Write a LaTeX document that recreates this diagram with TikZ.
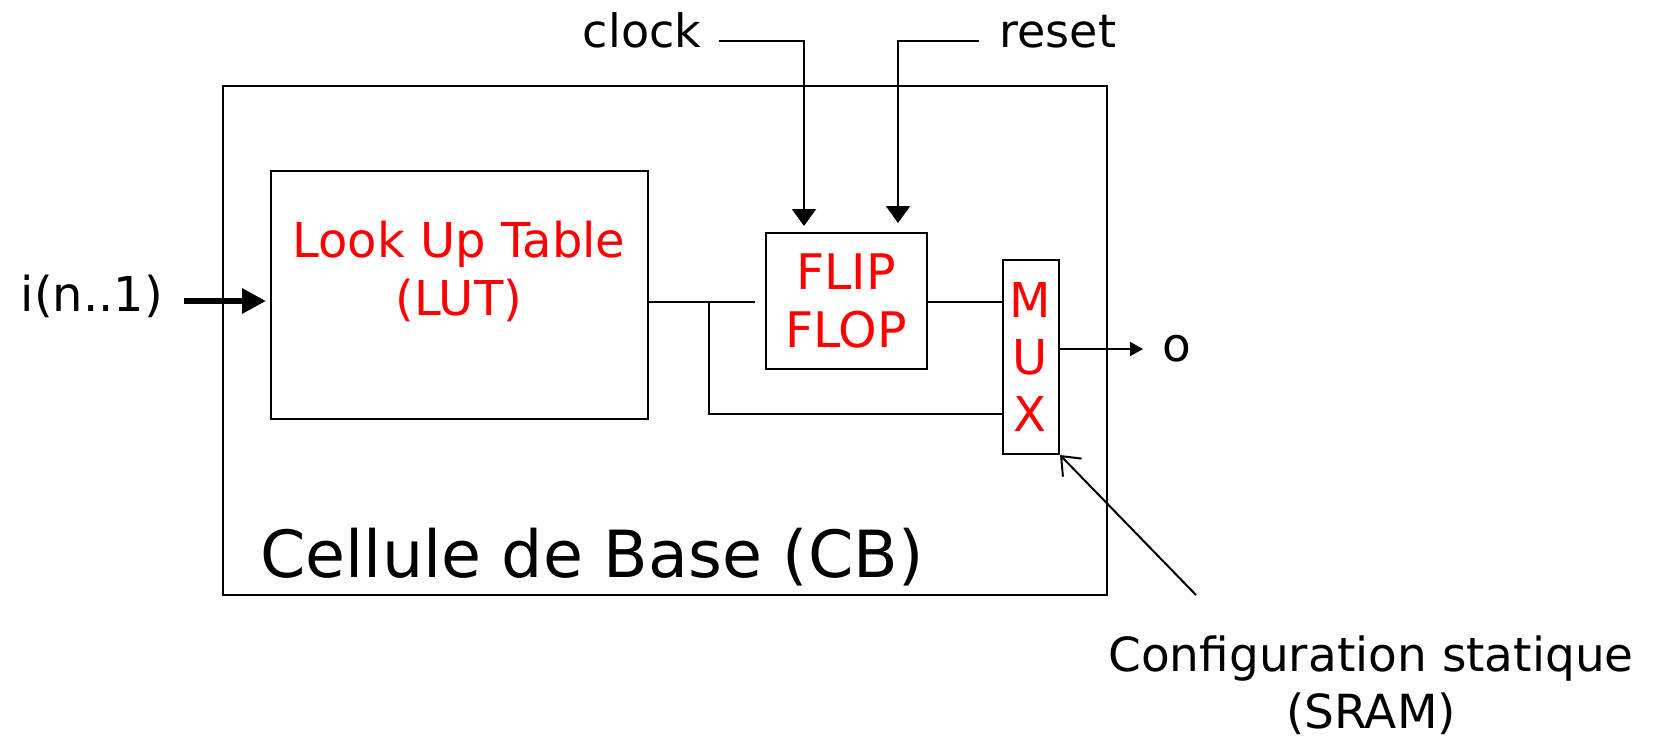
\documentclass[tikz,border=0pt]{standalone}
\usepackage{fontspec}
\setmainfont{DejaVu Sans}
\usetikzlibrary{arrows.meta}
\definecolor{lutred}{RGB}{255,0,0}
\tikzset{
  wire/.style={line width=2pt, black},
  blk/.style={draw, line width=2pt, anchor=north west, inner sep=0pt},
  lbl/.style={anchor=base, inner sep=0pt, font=\fontsize{47}{56}\selectfont},
  redlbl/.style={lbl, text=lutred, font=\fontsize{48}{56}\selectfont},
  muxlbl/.style={redlbl, font=\fontsize{48}{56}\selectfont},
  tri/.style={-{Triangle[width=24pt,length=17pt]}},
}
\begin{document}
\begin{tikzpicture}[x=1pt,y=-1pt]
\path[use as bounding box] (0,0) rectangle (1659,739);
% blocks
\node[blk, minimum width=884pt, minimum height=509pt] (cb) at (222,85) {};
\node[blk, minimum width=377pt, minimum height=248pt] (lut) at (270,170) {};
\node[blk, minimum width=161pt, minimum height=136pt] (ff) at (765,232) {};
\node[blk, minimum width=56pt, minimum height=194pt] (mux) at (1002,259) {};
% texts
\node[redlbl] (lut1) at (459,257) {Look Up Table};
\node[redlbl] (lut2) at (459,315) {(LUT)};
\node[redlbl, font=\fontsize{49}{56}\selectfont] (ff1) at (846,289) {FLIP};
\node[redlbl, font=\fontsize{49}{56}\selectfont] (ff2) at (846,347) {FLOP};
\node[muxlbl] (m1) at (1030,317) {M};
\node[muxlbl] (m2) at (1030,374) {U};
\node[muxlbl] (m3) at (1030,431) {X};
\node[lbl, font=\fontsize{65}{70}\selectfont] (cbl) at (592,577) {Cellule de Base (CB)};
\node[lbl, font=\fontsize{46}{50}\selectfont] (clk) at (642,47) {clock};
\node[lbl, font=\fontsize{46}{50}\selectfont] (rst) at (1058,47) {reset};
\node[lbl, font=\fontsize{48}{50}\selectfont] (inp) at (92,311) {i(n..1)};
\node[lbl] (out) at (1177,361) {o};
\node[lbl] (cfg1) at (1371,671) {Configuration statique};
\node[lbl] (cfg2) at (1371,728) {(SRAM)};
% coordinates
\coordinate (j) at (709,302);
\coordinate (ffin) at (755,302);
\coordinate (jb) at (709,414);
\coordinate (clkstart) at (719,41);
\coordinate (clkcorner) at (804,41);
\coordinate (clktip) at (804,226);
\coordinate (rststart) at (979,41);
\coordinate (rstcorner) at (898,41);
\coordinate (rsttip) at (898,223);
\coordinate (instart) at (184,301);
\coordinate (intip) at (266,301);
\coordinate (outtip) at (1143,349);
\coordinate (cfgstart) at (1196,595);
% wires
\draw[wire] (lut.east |- j) -- (ffin);
\draw[wire] (j) -- (jb) -- (mux.west |- jb);
\draw[wire] (ff.east |- j) -- (mux.west |- j);
\draw[wire, -{Triangle[width=14pt,length=13pt]}] (mux.east |- outtip) -- (outtip);
\draw[wire, tri] (clkstart) -- (clkcorner) -- (clktip);
\draw[wire, tri] (rststart) -- (rstcorner) -- (rsttip);
\draw[line width=6pt, -{Triangle[width=24pt,length=24pt]}] (instart) -- (intip);
\draw[wire, -{Straight Barb[width=26pt,length=16pt]}] (cfgstart) -- (mux.south east);
\end{tikzpicture}
\end{document}
